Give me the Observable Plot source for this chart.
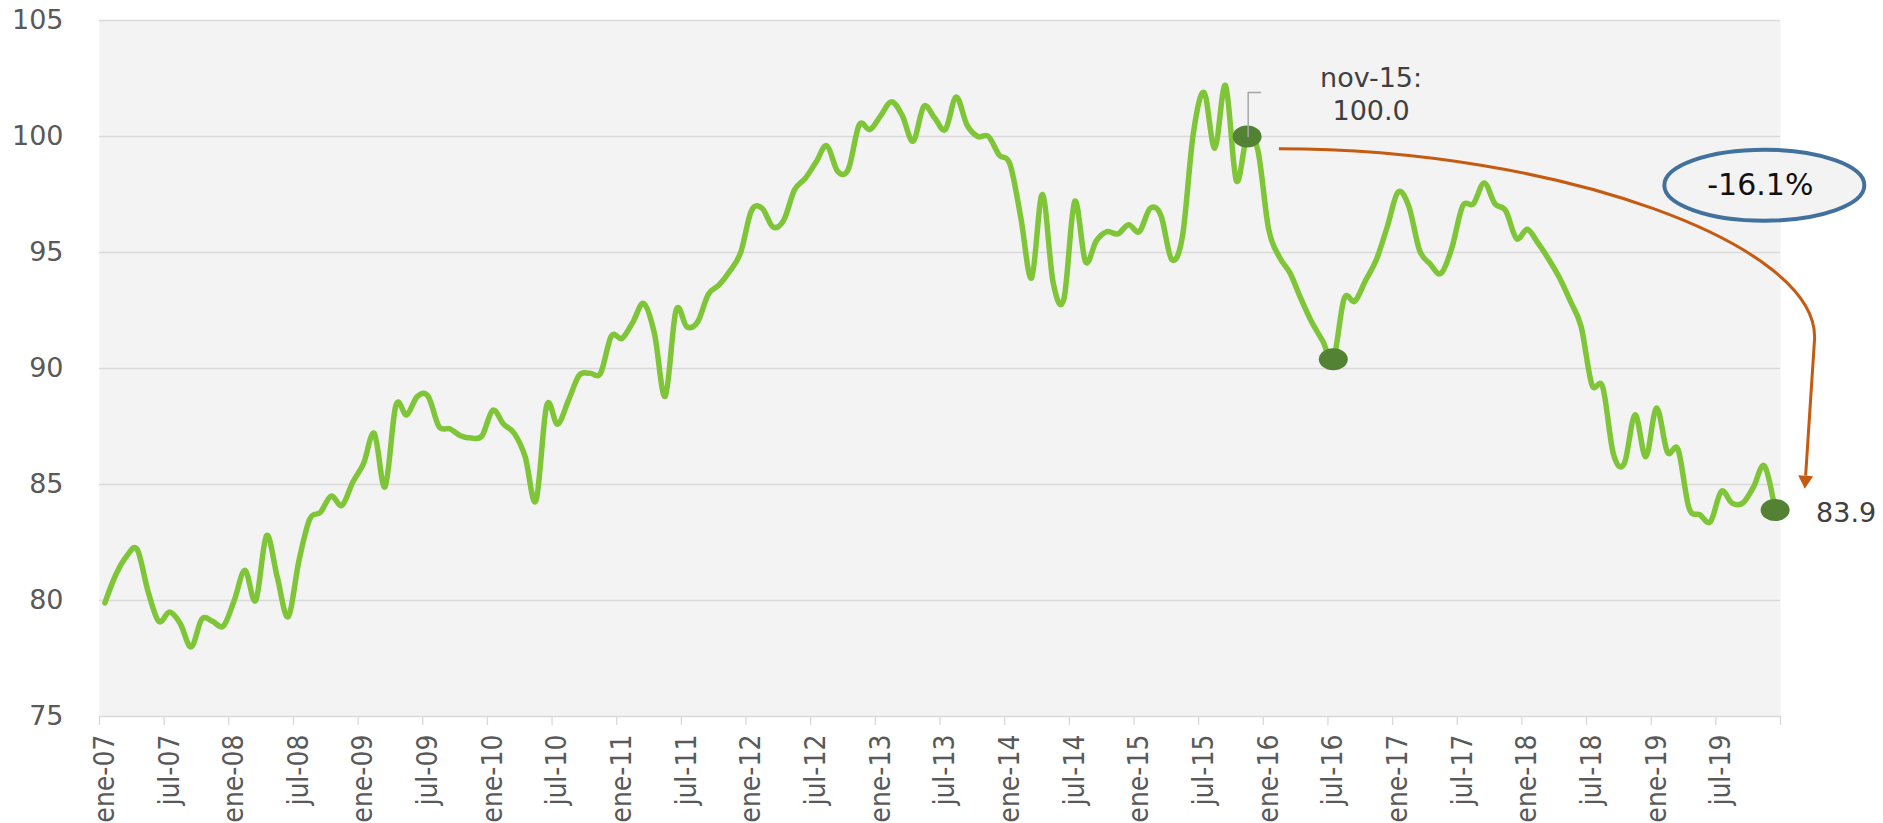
<!DOCTYPE html>
<html><head><meta charset="utf-8">
<script src="https://cdn.jsdelivr.net/npm/d3@7"></script>
<script src="https://cdn.jsdelivr.net/npm/@observablehq/plot@0.6"></script>
<style>
html,body{margin:0;padding:0;background:#fff;}
#chart svg{display:block;}
</style></head><body><div id="chart"></div>
<script>
// ---- data ----
const monthAbbr = ["ene","feb","mar","abr","may","jun","jul","ago","sep","oct","nov","dic"];
const firstYear = 7; // 2007
const values = [
  79.9, 81.1, 81.9, 82.2, 80.4, 79.1, 79.5, 79.0, 78.0, 79.2, 79.1, 78.9,
  80.0, 81.3, 80.0, 82.8, 81.0, 79.3, 81.7, 83.5, 83.8, 84.5, 84.1, 85.1,
  85.9, 87.2, 84.9, 88.4, 88.0, 88.8, 88.8, 87.5, 87.4, 87.1, 87.0, 87.1,
  88.2, 87.6, 87.2, 86.2, 84.3, 88.4, 87.6, 88.6, 89.7, 89.8, 89.8, 91.4,
  91.3, 92.0, 92.8, 91.5, 88.8, 92.5, 91.8, 92.0, 93.2, 93.6, 94.2, 95.0,
  96.8, 96.9, 96.1, 96.4, 97.7, 98.2, 98.9, 99.6, 98.5, 98.6, 100.5, 100.3,
  100.9, 101.5, 100.9, 99.8, 101.3, 100.8, 100.3, 101.7, 100.5, 100.0, 100.0, 99.2,
  98.8, 96.5, 93.9, 97.5, 93.7, 93.0, 97.2, 94.6, 95.5, 95.9, 95.8, 96.2,
  95.9, 96.9, 96.6, 94.7, 95.7, 100.1, 101.9, 99.5, 102.2, 98.1, 100.0, 99.4,
  96.0, 94.8, 94.1, 93.0, 92.0, 91.2, 90.4, 93.0, 92.9, 93.8, 94.7, 96.1,
  97.6, 97.0, 95.1, 94.5, 94.1, 95.2, 97.0, 97.1, 98.0, 97.1, 96.8, 95.6,
  96.0, 95.4, 94.7, 93.9, 92.9, 91.8, 89.3, 89.2, 86.3, 85.9, 88.0, 86.2,
  88.3, 86.4, 86.5, 84.0, 83.7, 83.4, 84.7, 84.2, 84.2, 84.9, 85.8, 83.9
];
const tickLabels = ["ene-07","jul-07","ene-08","jul-08","ene-09","jul-09","ene-10","jul-10",
  "ene-11","jul-11","ene-12","jul-12","ene-13","jul-13","ene-14","jul-14","ene-15","jul-15",
  "ene-16","jul-16","ene-17","jul-17","ene-18","jul-18","ene-19","jul-19"];
const yTicks = [75, 80, 85, 90, 95, 100, 105];
const highlightMonths = ["nov-15", "jul-16", "dic-19"];
const baseLabelLines = ["nov-15:", "100.0"];
const lastLabel = "83.9";
const changeLabel = "-16.1%";

// ---- table ----
const rows = values.map((v, i) => ({
  i, v, month: monthAbbr[i % 12] + "-" + String(firstYear + Math.floor(i / 12)).padStart(2, "0")
}));
const n = rows.length;
const labelPos = tickLabels.map((_, k) => k * 6);
const boundaries = d3.range(0, n + 1, 6).map(k => k - 0.5);
const hi = rows.filter(r => highlightMonths.includes(r.month));
const base = rows.find(r => r.month === "nov-15");
const last = rows[n - 1];

// annotation geometry (data units)
const leader = [{i: base.i + 0.1, v: base.v}, {i: base.i + 0.1, v: base.v + 1.9}, {i: base.i + 1.25, v: base.v + 1.9}];
const arrowStart = {i: base.i + 3, v: 99.45};
const arrowBend = {i: 158.7, v: 91.2};
const arrowEnd = {i: 157.8, v: 84.8};
const changeAt = {i: 154, v: 97.9};

function ellipse(rx, ry) {
  const k = 0.5523;
  return {draw(c) {
    c.moveTo(rx, 0);
    c.bezierCurveTo(rx, ry * k, rx * k, ry, 0, ry);
    c.bezierCurveTo(-rx * k, ry, -rx, ry * k, -rx, 0);
    c.bezierCurveTo(-rx, -ry * k, -rx * k, -ry, 0, -ry);
    c.bezierCurveTo(rx * k, -ry, rx, -ry * k, rx, 0);
    c.closePath();
  }};
}

function arrowMark(index, scales) {
  const X = scales.x, Y = scales.y;
  const p0 = [X(arrowStart.i), Y(arrowStart.v)];
  const p1 = [X(arrowBend.i), Y(arrowBend.v)];
  const p2 = [X(arrowEnd.i), Y(arrowEnd.v)];
  const dx = p2[0] - p1[0], dy = p2[1] - p1[1], len = Math.hypot(dx, dy);
  const ux = dx / len, uy = dy / len;
  const pull = 0.5 * (p1[1] - p0[1]);
  const c1 = [p0[0] + 0.52 * (p1[0] - p0[0]), p0[1]];
  const c2 = [p1[0] - ux * pull, p1[1] - uy * pull];
  const headL = 13, headW = 7.5;
  const b = [p2[0] - ux * headL, p2[1] - uy * headL];
  const g = d3.create("svg:g");
  g.append("path")
    .attr("d", `M${p0}C${c1} ${c2} ${p1}L${b}`)
    .attr("fill", "none").attr("stroke", "#C55A11").attr("stroke-width", 3);
  g.append("path")
    .attr("d", `M${p2}L${b[0] - uy * headW},${b[1] + ux * headW}L${b[0] + uy * headW},${b[1] - ux * headW}Z`)
    .attr("fill", "#C55A11");
  return g.node();
}

const numFont = "DejaVu Sans, Liberation Sans, sans-serif";
const narrowFont = "'DejaVu Sans Condensed', 'Liberation Sans Narrow', 'DejaVu Sans', sans-serif";

const chart = Plot.plot({
  width: 1883,
  height: 823,
  marginLeft: 99,
  marginRight: 103,
  marginTop: 20,
  marginBottom: 107,
  style: {background: "#ffffff", overflow: "visible", fontFamily: numFont},
  x: {type: "linear", domain: [-0.5, n - 0.5]},
  y: {domain: [75, 105]},
  marks: [
    Plot.frame({fill: "#F3F3F3", stroke: null}),
    Plot.gridY(yTicks.filter(t => t > 75), {stroke: "#D9D9D9", strokeOpacity: 1, strokeWidth: 1.3}),
    Plot.ruleY([75], {stroke: "#D9D9D9", strokeWidth: 1.3}),
    Plot.axisY({ticks: yTicks, tickSize: 0, tickPadding: 36, fontSize: 27, fontFamily: numFont, fill: "#595959", label: null}),
    Plot.axisX({ticks: boundaries, tickSize: 9, tickFormat: () => "", stroke: "#D9D9D9", strokeWidth: 1.3, label: null}),
    Plot.axisX({ticks: labelPos, tickFormat: i => tickLabels[Math.round(i / 6)], tickSize: 0, tickPadding: 18,
      tickRotate: -90, fontSize: 28, fontFamily: narrowFont, fill: "#595959", label: null}),
    Plot.line(rows, {x: "i", y: "v", stroke: "#7FC538", strokeWidth: 5.5, curve: "cardinal", strokeLinejoin: "round"}),
    Plot.dot(hi, {x: "i", y: "v", symbol: ellipse(14.5, 11), fill: "#548235", stroke: null}),
    Plot.line(leader, {x: "i", y: "v", stroke: "#A6A6A6", strokeWidth: 1.5}),
    Plot.text([base], {x: "i", y: "v", text: () => baseLabelLines[0], dx: 124, dy: -58, fontSize: 27, fontFamily: numFont, fill: "#404040"}),
    Plot.text([base], {x: "i", y: "v", text: () => baseLabelLines[1], dx: 124, dy: -25, fontSize: 27, fontFamily: numFont, fill: "#404040"}),
    Plot.text([last], {x: "i", y: "v", text: () => lastLabel, dx: 41, dy: 3, textAnchor: "start", fontSize: 27, fontFamily: numFont, fill: "#404040"}),
    arrowMark,
    Plot.dot([changeAt], {x: "i", y: "v", symbol: ellipse(100, 35.5), fill: "#F3F3F3", stroke: "#41719C", strokeWidth: 4}),
    Plot.text([changeAt], {x: "i", y: "v", text: () => changeLabel, dx: -4, fontSize: 30, fontFamily: numFont, fill: "#111111"})
  ]
});
document.getElementById("chart").append(chart);
</script>
</body></html>
